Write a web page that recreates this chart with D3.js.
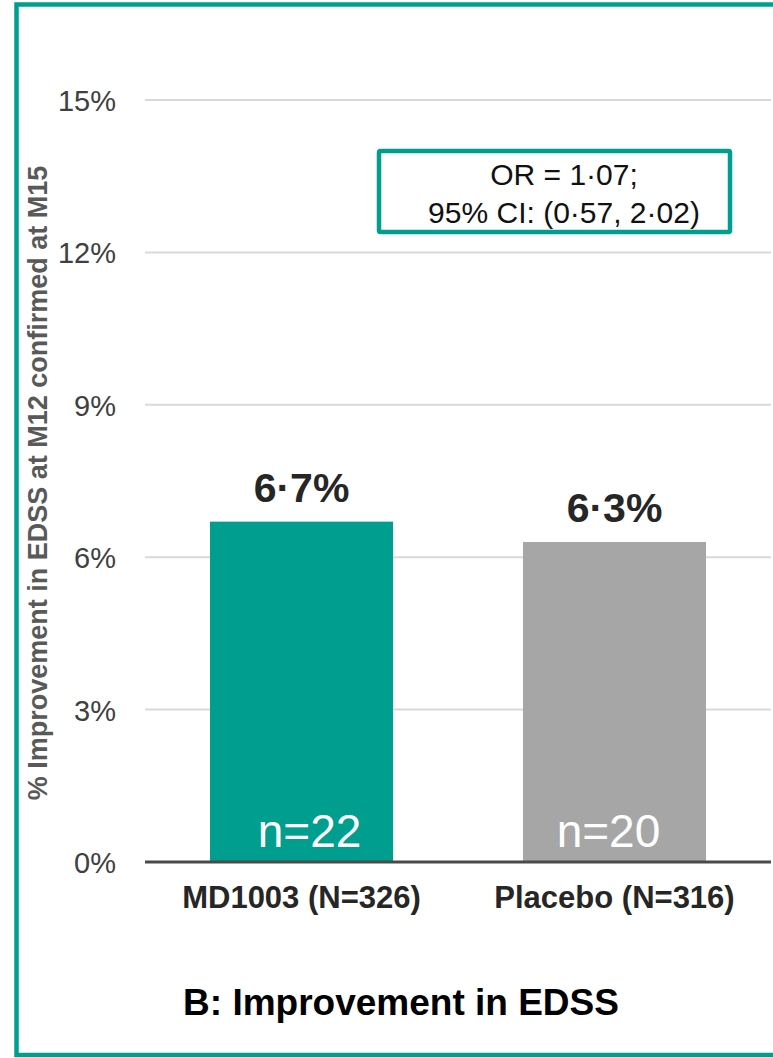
<!DOCTYPE html>
<html>
<head>
<meta charset="utf-8">
<script src="https://cdn.jsdelivr.net/npm/d3@7"></script>
<style>
  html, body { margin: 0; padding: 0; background: #fff; }
  svg { display: block; }
  text { font-family: "Liberation Sans", Arial, sans-serif; }
</style>
</head>
<body>
<svg id="chart" width="773" height="1058"></svg>
<script>
// ---- data ----
const categories = ["MD1003 (N=326)", "Placebo (N=316)"];
const values = [6.7, 6.3];
const valueLabels = ["6·7%", "6·3%"];
const countLabels = ["n=22", "n=20"];
const barColors = ["#009E8F", "#A6A6A6"];
const yTicks = [0, 3, 6, 9, 12, 15];
const yAxisTitle = "% Improvement in EDSS at M12 confirmed at M15";
const chartTitle = "B: Improvement in EDSS";
const statLines = ["OR = 1·07;", "95% CI: (0·57, 2·02)"];

// ---- layout ----
const svg = d3.select("#chart");
const teal = "#009E8F";

const x = d3.scaleBand().domain(categories).range([145, 771])
  .paddingInner(0.4153).paddingOuter(0.2077);
const y = d3.scaleLinear().domain([0, 15]).range([862, 100]);

// outer frame (left, top, bottom visible; right cut off)
svg.append("rect")
  .attr("x", 16.5).attr("y", 4.5)
  .attr("width", 800).attr("height", 1050.5)
  .attr("fill", "none").attr("stroke", teal).attr("stroke-width", 4.5);

// gridlines
svg.append("g").selectAll("line")
  .data(yTicks.filter(d => d > 0)).join("line")
  .attr("x1", 145).attr("x2", 771)
  .attr("y1", d => y(d)).attr("y2", d => y(d))
  .attr("stroke", "#D9D9D9").attr("stroke-width", 2);

// y axis tick labels
const yAxis = d3.axisLeft(y).tickValues(yTicks).tickFormat(d => d + "%").tickSize(0).tickPadding(0);
const gy = svg.append("g").attr("transform", "translate(116,0)").call(yAxis);
gy.select(".domain").remove();
gy.selectAll("text")
  .attr("font-family", "Liberation Sans, Arial, sans-serif")
  .attr("font-size", 29).attr("fill", "#404040")
  .attr("dy", "0.36em");

// bars
svg.append("g").selectAll("rect")
  .data(values).join("rect")
  .attr("x", (d, i) => x(categories[i]))
  .attr("y", d => y(d))
  .attr("width", x.bandwidth())
  .attr("height", d => y(0) - y(d))
  .attr("fill", (d, i) => barColors[i]);

// baseline
svg.append("line")
  .attr("x1", 145).attr("x2", 771)
  .attr("y1", y(0)).attr("y2", y(0))
  .attr("stroke", "#4A4A4A").attr("stroke-width", 3);

// value labels
svg.append("g").selectAll("text")
  .data(values).join("text")
  .attr("x", (d, i) => x(categories[i]) + x.bandwidth() / 2)
  .attr("y", d => y(d) - 20)
  .attr("text-anchor", "middle")
  .attr("font-size", 41).attr("font-weight", "bold").attr("fill", "#262626")
  .text((d, i) => valueLabels[i]);

// count labels inside bars
const countShift = [8, -6];
svg.append("g").selectAll("text")
  .data(countLabels).join("text")
  .attr("x", (d, i) => x(categories[i]) + x.bandwidth() / 2 + countShift[i])
  .attr("y", y(0) - 15)
  .attr("text-anchor", "middle")
  .attr("font-size", 46).attr("fill", "#ffffff")
  .text(d => d);

// category labels
const xAxis = d3.axisBottom(x).tickSize(0).tickPadding(0);
const gx = svg.append("g").attr("transform", `translate(0,${y(0)})`).call(xAxis);
gx.select(".domain").remove();
gx.selectAll("text")
  .attr("font-family", "Liberation Sans, Arial, sans-serif")
  .attr("font-size", 31).attr("font-weight", "bold").attr("fill", "#262626")
  .attr("dy", null).attr("y", 46);

// y axis title
svg.append("text")
  .attr("transform", "translate(47,483) rotate(-90)")
  .attr("text-anchor", "middle")
  .attr("font-size", 27).attr("font-weight", "bold").attr("fill", "#595959")
  .text(yAxisTitle);

// stats box
svg.append("rect")
  .attr("x", 379).attr("y", 151).attr("width", 351).attr("height", 81)
  .attr("fill", "#fff").attr("stroke", teal).attr("stroke-width", 4.5)
  .attr("rx", 1.5);
svg.append("g").selectAll("text")
  .data(statLines).join("text")
  .attr("x", 564)
  .attr("y", (d, i) => 185 + i * 38)
  .attr("text-anchor", "middle")
  .attr("font-size", 30).attr("fill", "#111")
  .text(d => d);

// chart title
svg.append("text")
  .attr("x", 401).attr("y", 1015)
  .attr("text-anchor", "middle")
  .attr("font-size", 37).attr("font-weight", "bold").attr("fill", "#000")
  .text(chartTitle);
</script>
</body>
</html>
